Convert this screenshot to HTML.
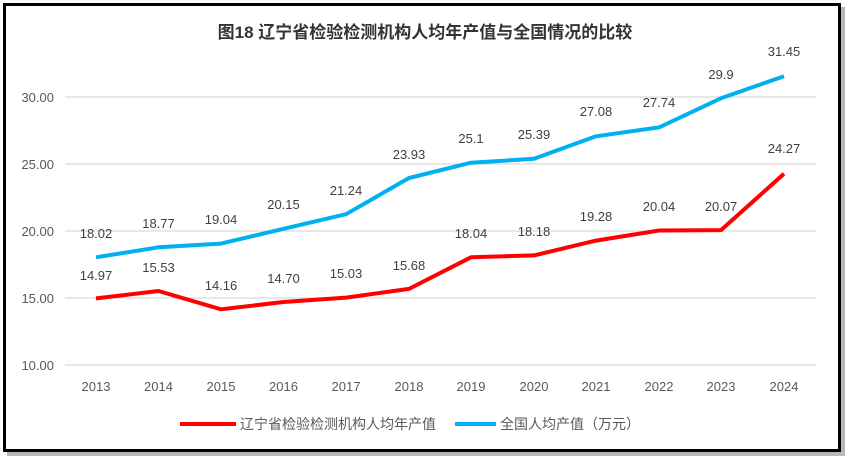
<!DOCTYPE html>
<html><head><meta charset="utf-8"><style>
body{margin:0;background:#fff;}
svg{display:block;font-family:"Liberation Sans","Noto Sans CJK SC",sans-serif;}
</style></head><body>
<svg width="849" height="464" viewBox="0 0 849 464">
<rect x="7" y="7" width="838" height="449" fill="#888" opacity="0.6"/>
<rect x="4.5" y="4.5" width="835" height="446" fill="#fff" stroke="#000" stroke-width="3"/>
<text x="425" y="38" text-anchor="middle" font-size="17" font-weight="bold" fill="#333">图18 辽宁省检验检测机构人均年产值与全国情况的比较</text>
<g stroke="#d9d9d9" stroke-width="1.3">
<line x1="65" x2="816" y1="97" y2="97"/><line x1="65" x2="816" y1="164" y2="164"/>
<line x1="65" x2="816" y1="231" y2="231"/><line x1="65" x2="816" y1="298" y2="298"/>
<line x1="65" x2="816" y1="365" y2="365"/></g>
<g font-size="13" fill="#595959" text-anchor="end">
<text x="54" y="102">30.00</text><text x="54" y="169">25.00</text><text x="54" y="236">20.00</text><text x="54" y="303">15.00</text><text x="54" y="370">10.00</text></g>
<g font-size="13" fill="#595959" text-anchor="middle">
<text x="96" y="391">2013</text><text x="158.5" y="391">2014</text><text x="221" y="391">2015</text><text x="283.5" y="391">2016</text><text x="346" y="391">2017</text><text x="409" y="391">2018</text><text x="471" y="391">2019</text><text x="534" y="391">2020</text><text x="596" y="391">2021</text><text x="659" y="391">2022</text><text x="721" y="391">2023</text><text x="784" y="391">2024</text></g>
<polyline fill="none" stroke="#00b0f0" stroke-width="4" stroke-linejoin="round" points="96,257.3 158.5,247.3 221,243.6 283.5,228.8 346,214.2 409,178 471,162.7 534,158.8 596,136.3 659,127.4 721,98.3 784,76.2"/>
<polyline fill="none" stroke="#ff0000" stroke-width="4" stroke-linejoin="round" points="96,298.4 158.5,291 221,309.3 283.5,302 346,297.6 409,288.9 471,257.3 534,255.4 596,240.6 659,230.5 721,230.1 784,173.8"/>
<g font-size="13" fill="#404040" text-anchor="middle">
<text x="96" y="238">18.02</text><text x="158.5" y="228">18.77</text><text x="221" y="224">19.04</text><text x="283.5" y="209">20.15</text><text x="346" y="195">21.24</text><text x="409" y="159">23.93</text><text x="471" y="143">25.1</text><text x="534" y="139">25.39</text><text x="596" y="116">27.08</text><text x="659" y="107">27.74</text><text x="721" y="79">29.9</text><text x="784" y="56">31.45</text>
<text x="96" y="280">14.97</text><text x="158.5" y="272">15.53</text><text x="221" y="290">14.16</text><text x="283.5" y="283">14.70</text><text x="346" y="278">15.03</text><text x="409" y="270">15.68</text><text x="471" y="238">18.04</text><text x="534" y="236">18.18</text><text x="596" y="221">19.28</text><text x="659" y="211">20.04</text><text x="721" y="211">20.07</text><text x="784" y="153">24.27</text></g>
<line x1="180" x2="236" y1="424" y2="424" stroke="#ff0000" stroke-width="4"/>
<text x="240" y="429" font-size="14" fill="#595959">辽宁省检验检测机构人均年产值</text>
<line x1="455" x2="496" y1="424" y2="424" stroke="#00b0f0" stroke-width="4"/>
<text x="500" y="429" font-size="14" fill="#595959">全国人均产值（万元）</text>
</svg>
</body></html>
